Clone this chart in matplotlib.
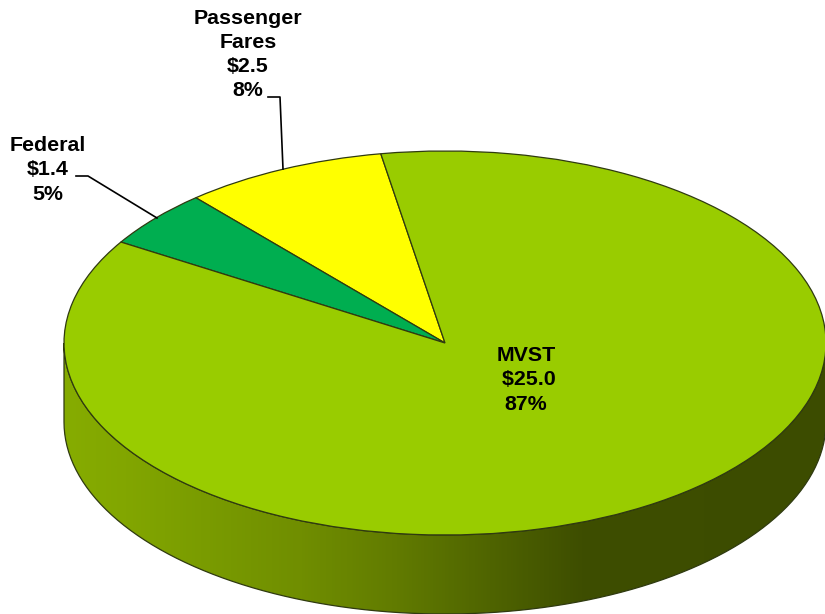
import numpy as np
import matplotlib
matplotlib.use('Agg')
import matplotlib.pyplot as plt
from matplotlib.colors import LinearSegmentedColormap
from matplotlib.lines import Line2D
from matplotlib.patches import PathPatch
from matplotlib.path import Path

# data, in pie order going counterclockwise from the top
names = ['Passenger\nFares', 'Federal', 'MVST']
amounts = [2.5, 1.4, 25.0]
percents = [8, 5, 87]
colors = ['#FFFF00', '#00AE50', '#99CC00']

W, H = 825, 614
CX, CY, RX, RY = 445, 343, 381, 192  # top ellipse in pixels
DEPTH = 79 / RY
EDGE = '#2F3A10'

plt.rcParams['font.family'] = ['Liberation Sans', 'DejaVu Sans']


def px(x, y):
    """pixel position in the picture -> figure fraction"""
    return x / W, 1 - y / H


fig = plt.figure(figsize=(W / 100, H / 100), dpi=100, facecolor='white')
ax = fig.add_axes([0, 0, 1, 1])

# top of the pie, squashed by using different x and y scales
ax.pie(amounts, startangle=99.7, colors=colors, radius=1,
       wedgeprops=dict(edgecolor=EDGE, linewidth=0.9, zorder=3))
ax.set_aspect('auto')
xlim = (-CX / RX, (W - CX) / RX)
ylim = ((CY - H) / RY, CY / RY)

# side wall, a gradient clipped to the band under the front edge
t = np.linspace(np.pi, 2 * np.pi, 200)
wall_x = np.r_[np.cos(t), np.cos(t[::-1]), -1]
wall_y = np.r_[np.sin(t), np.sin(t[::-1]) - DEPTH, 0]
wall = PathPatch(Path(np.c_[wall_x, wall_y]), facecolor='none', edgecolor=EDGE,
                 linewidth=0.9, zorder=2)
ax.add_patch(wall)
side_cmap = LinearSegmentedColormap.from_list('side', [
    (0.00, '#86AC00'), (0.08, '#82A600'), (0.18, '#7A9C00'), (0.31, '#708E00'),
    (0.43, '#627C00'), (0.56, '#4F6400'), (0.68, '#3E4E00'), (1.00, '#3C4C00')])
grad = ax.imshow(np.linspace(0, 1, 512)[None, :], cmap=side_cmap, aspect='auto',
                 extent=(-1, 1, -1 - DEPTH, 0), zorder=1)
grad.set_clip_path(wall)
ax.set_xlim(xlim)
ax.set_ylim(ylim)
ax.axis('off')


def label(i, x, y, text=None):
    if text is None:
        text = f'{names[i]}\n${amounts[i]:.1f}\n{percents[i]}%'
    fx, fy = px(x, y)
    fig.text(fx, fy, text, ha='center', va='top', fontsize=15.4, fontweight='bold',
             color='black', linespacing=1.35, zorder=6)


label(0, 248, 8.5)
label(1, 48, 136)
label(2, 526, 346, f'{names[2]}\n ${amounts[2]:.1f}\n{percents[2]}%')

# leader lines
for xs, ys in [((268, 280, 283), (97, 97, 169)), ((76, 88, 157), (176, 176, 218))]:
    fx, fy = zip(*[px(a, b) for a, b in zip(xs, ys)])
    fig.add_artist(Line2D(fx, fy, color='black', linewidth=1.2, zorder=5))

fig.savefig('out.png', dpi=100)
